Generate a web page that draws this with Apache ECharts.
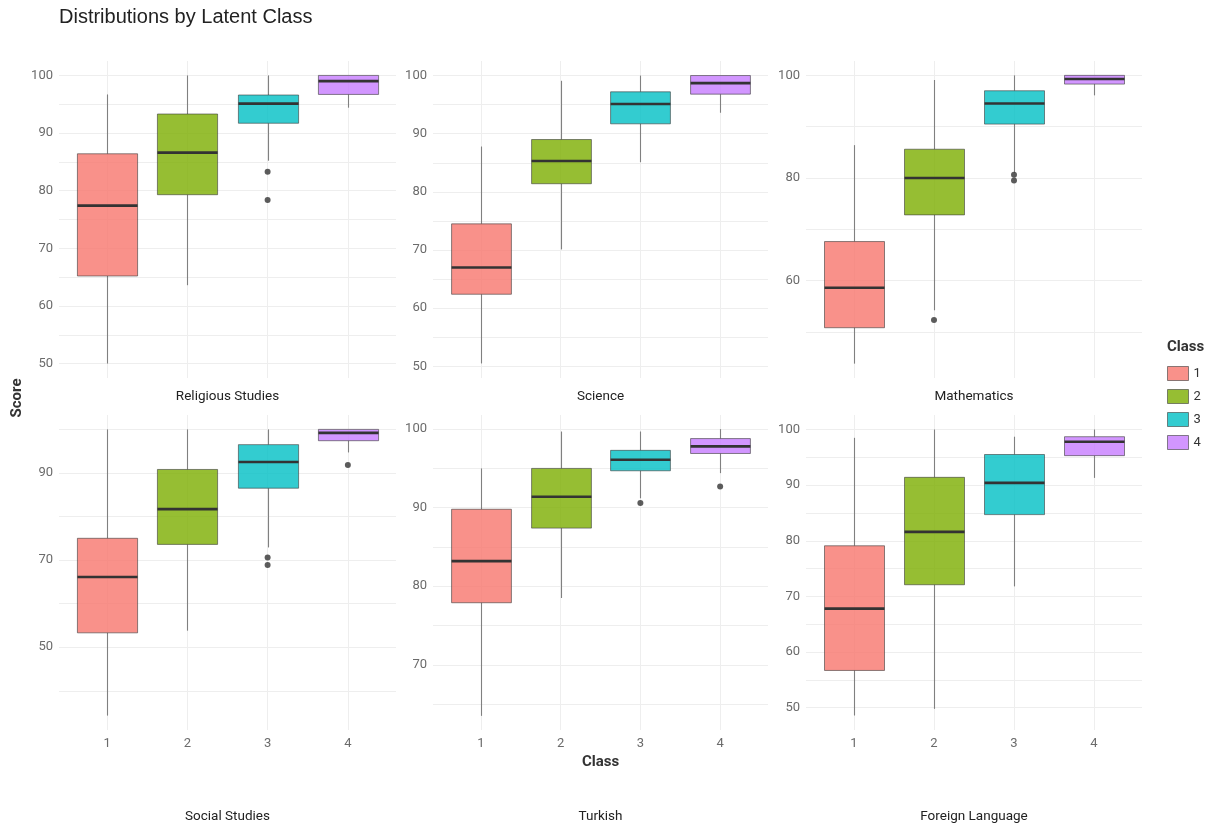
<!DOCTYPE html>
<html>
<head>
<meta charset="utf-8">
<title>Distributions by Latent Class</title>
<script src="https://cdn.jsdelivr.net/npm/echarts@6/dist/echarts.min.js"></script>
<style>
  html, body { margin: 0; padding: 0; background: #ffffff; }
  #chart { width: 1218px; height: 828px; }
</style>
</head>
<body>
<div id="chart"></div>
<script>
// Subjects (facets) and latent classes
const subjects = ['Religious Studies', 'Science', 'Mathematics', 'Social Studies', 'Turkish', 'Foreign Language'];
const classes = ['1', '2', '3', '4'];

// Box statistics per class: [lower whisker, Q1, median, Q3, upper whisker]
const religiousStats = [
  [50.0, 65.2, 77.4, 86.4, 96.7],
  [63.6, 79.3, 86.6, 93.3, 100.0],
  [85.2, 91.7, 95.1, 96.6, 100.0],
  [94.4, 96.7, 99.0, 100.0, 100.0]
];
const scienceStats = [
  [50.5, 62.4, 67.0, 74.5, 87.8],
  [70.1, 81.4, 85.3, 89.0, 99.1],
  [85.1, 91.7, 95.1, 97.2, 100.0],
  [93.6, 96.8, 98.7, 100.0, 100.0]
];
const mathStats = [
  [43.8, 50.8, 58.6, 67.6, 86.4],
  [54.2, 72.8, 80.0, 85.6, 99.1],
  [81.0, 90.5, 94.5, 97.0, 100.0],
  [96.1, 98.3, 99.3, 100.0, 100.0]
];
const socialStats = [
  [34.3, 53.3, 66.1, 75.0, 100.0],
  [53.8, 73.6, 81.7, 90.8, 100.0],
  [72.9, 86.5, 92.5, 96.5, 100.0],
  [94.7, 97.4, 99.2, 100.0, 100.0]
];
const turkishStats = [
  [63.5, 77.9, 83.2, 89.8, 95.0],
  [78.5, 87.4, 91.4, 95.0, 99.7],
  [91.2, 94.7, 96.1, 97.3, 99.7],
  [94.4, 96.9, 97.8, 98.8, 100.0]
];
const foreignStats = [
  [48.6, 56.7, 67.8, 79.1, 98.5],
  [49.8, 72.1, 81.6, 91.4, 100.0],
  [71.8, 84.7, 90.4, 95.5, 98.7],
  [91.3, 95.3, 97.8, 98.7, 100.0]
];

// Outliers: [class, score]
const religiousOutliers = [[3, 83.3], [3, 78.4]];
const scienceOutliers = [];
const mathOutliers = [[2, 52.3], [3, 80.6], [3, 79.5]];
const socialOutliers = [[3, 70.6], [3, 68.9], [4, 91.8]];
const turkishOutliers = [[3, 90.6], [4, 92.7]];
const foreignOutliers = [];

// Y-axis ranges, labelled breaks and gridline breaks per subject
const yMins = [47.5, 48.0, 41.0, 31.0, 61.7, 46.0];
const yMaxs = [102.5, 102.5, 102.8, 103.3, 101.8, 102.6];
const yLabelBreaks = [
  [50, 60, 70, 80, 90, 100],
  [50, 60, 70, 80, 90, 100],
  [60, 80, 100],
  [50, 70, 90],
  [70, 80, 90, 100],
  [50, 60, 70, 80, 90, 100]
];
const yGridBreaks = [
  [50, 55, 60, 65, 70, 75, 80, 85, 90, 95, 100],
  [50, 55, 60, 65, 70, 75, 80, 85, 90, 95, 100],
  [50, 60, 70, 80, 90, 100],
  [40, 50, 60, 70, 80, 90, 100],
  [65, 70, 75, 80, 85, 90, 95, 100],
  [50, 55, 60, 65, 70, 75, 80, 85, 90, 95, 100]
];
const classTicks = [1, 2, 3, 4];

const allStats = [religiousStats, scienceStats, mathStats, socialStats, turkishStats, foreignStats];
const allOutliers = [religiousOutliers, scienceOutliers, mathOutliers, socialOutliers, turkishOutliers, foreignOutliers];

const classColors = [
  'rgba(248,118,109,0.8)',
  'rgba(124,174,0,0.8)',
  'rgba(0,191,196,0.8)',
  'rgba(199,124,255,0.8)'
];
const FONT = 'Roboto, "Liberation Sans", sans-serif';
const TITLE_FONT = '"Liberation Sans", Arial, sans-serif';
const GRID_COLOR = '#eeeeee';

// Panel rectangles (facet_wrap 3 x 2)
const colLefts = [59, 433, 806];
const colWidths = [337, 335, 336];
const rowTops = [61, 415];
const rowHeights = [317, 315];

const grids = [], xAxes = [], yAxes = [], series = [], graphics = [];

function renderBox(params, api) {
  const x = api.value(0);
  const lo = api.coord([x, api.value(1)]);
  const q1 = api.coord([x, api.value(2)]);
  const med = api.coord([x, api.value(3)]);
  const q3 = api.coord([x, api.value(4)]);
  const hi = api.coord([x, api.value(5)]);
  const half = api.size([0.375, 0])[0];
  const cx = Math.round(lo[0]) + 0.5;
  const color = api.visual('color');
  return {
    type: 'group',
    children: [
      { type: 'line', shape: { x1: cx, y1: hi[1], x2: cx, y2: q3[1] }, style: { stroke: '#808080', lineWidth: 1.1 } },
      { type: 'line', shape: { x1: cx, y1: q1[1], x2: cx, y2: lo[1] }, style: { stroke: '#808080', lineWidth: 1.1 } },
      { type: 'rect', shape: { x: cx - half, y: q3[1], width: 2 * half, height: q1[1] - q3[1] },
        style: { fill: color, stroke: 'rgba(60,60,60,0.6)', lineWidth: 1 } },
      { type: 'line', shape: { x1: cx - half, y1: med[1], x2: cx + half, y2: med[1] },
        style: { stroke: '#333333', lineWidth: 2.6 } }
    ]
  };
}

subjects.forEach(function (name, i) {
  const row = Math.floor(i / 3), col = i % 3;
  grids.push({
    left: colLefts[col], top: rowTops[row], width: colWidths[col], height: rowHeights[row],
    containLabel: false
  });
  xAxes.push({
    type: 'value', gridIndex: i, min: 0.4, max: 4.6,
    axisLine: { show: false },
    axisTick: { show: false, customValues: classTicks },
    axisLabel: {
      show: row === 1, customValues: classTicks, margin: 7,
      color: '#6b6b6b', fontSize: 13, fontFamily: FONT,
      formatter: function (v) { return String(Math.round(v)); }
    },
    splitLine: { show: true, customValues: classTicks, lineStyle: { color: GRID_COLOR, width: 1 } },
    name: (i === 4) ? 'Class' : '',
    nameLocation: 'middle', nameGap: 25,
    nameTextStyle: { fontSize: 15, fontWeight: 'bold', color: '#333', fontFamily: FONT }
  });
  yAxes.push({
    type: 'value', gridIndex: i, min: yMins[i], max: yMaxs[i],
    axisLine: { show: false },
    axisTick: { show: false, customValues: yGridBreaks[i] },
    axisLabel: {
      customValues: yLabelBreaks[i], margin: 6,
      color: '#6b6b6b', fontSize: 13, fontFamily: FONT,
      formatter: function (v) { return String(Math.round(v)); }
    },
    splitLine: { show: true, customValues: yGridBreaks[i], lineStyle: { color: GRID_COLOR, width: 1 } }
  });

  allStats[i].forEach(function (st, k) {
    series.push({
      type: 'custom', name: classes[k], xAxisIndex: i, yAxisIndex: i,
      itemStyle: { color: classColors[k] },
      renderItem: renderBox,
      encode: { x: 0, y: [1, 2, 3, 4, 5] },
      data: [[k + 1].concat(st)],
      silent: true, animation: false
    });
  });
  series.push({
    type: 'scatter', name: 'outliers-' + i, xAxisIndex: i, yAxisIndex: i,
    symbol: 'circle', symbolSize: 6,
    itemStyle: { color: '#333333' },
    data: allOutliers[i],
    silent: true, animation: false, z: 5
  });

  // Facet strip label
  graphics.push({
    type: 'text',
    x: colLefts[col] + colWidths[col] / 2,
    y: row === 0 ? 397 : 817,
    style: { text: name, align: 'center', verticalAlign: 'middle', fontSize: 13.5, fill: '#222', fontFamily: FONT }
  });
});

// Y-axis title
graphics.push({
  type: 'text', x: 17, y: 398, rotation: Math.PI / 2,
  style: { text: 'Score', align: 'center', verticalAlign: 'middle', fontSize: 15, fontWeight: 'bold', fill: '#333', fontFamily: FONT }
});
// Legend title
graphics.push({
  type: 'text', x: 1167, y: 347,
  style: { text: 'Class', align: 'left', verticalAlign: 'middle', fontSize: 15, fontWeight: 'bold', fill: '#333', fontFamily: FONT }
});

const chart = echarts.init(document.getElementById('chart'), null, { renderer: 'canvas' });
chart.setOption({
  backgroundColor: '#ffffff',
  animation: false,
  title: {
    text: 'Distributions by Latent Class', left: 59, top: 7, padding: 0,
    textStyle: { fontSize: 20, fontWeight: 'normal', color: '#222', fontFamily: TITLE_FONT }
  },
  legend: {
    data: classes, orient: 'vertical', left: 1167, top: 366, padding: 0,
    itemWidth: 21, itemHeight: 14, itemGap: 8,
    icon: 'rect',
    itemStyle: { borderColor: 'rgba(60,60,60,0.6)', borderWidth: 1 },
    textStyle: { fontSize: 13, color: '#333', fontFamily: FONT },
    selectedMode: false
  },
  grid: grids,
  xAxis: xAxes,
  yAxis: yAxes,
  series: series,
  graphic: graphics
});
</script>
</body>
</html>
